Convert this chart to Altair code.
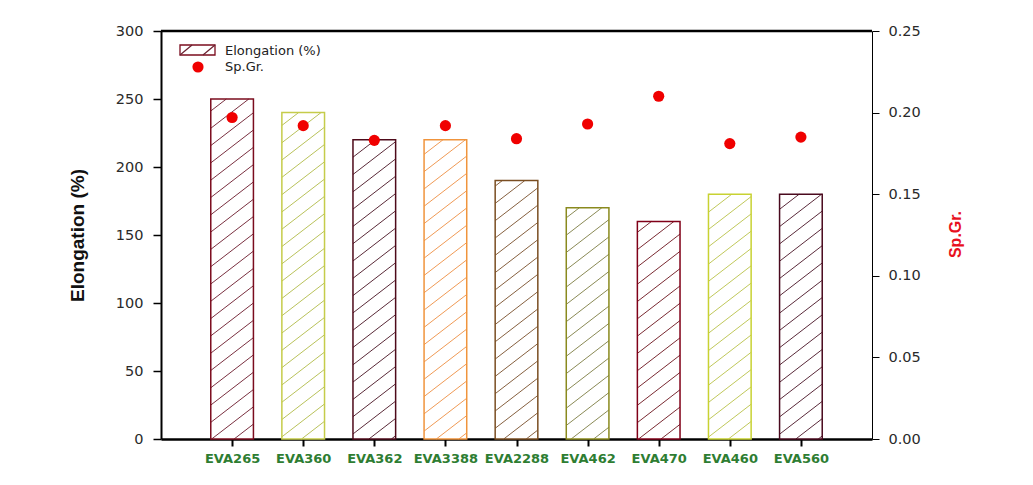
import math
import altair as alt
import pandas as pd

# ---------------- data ----------------
categories = ["EVA265", "EVA360", "EVA362", "EVA3388", "EVA2288",
              "EVA462", "EVA470", "EVA460", "EVA560"]
elongation = [250, 240, 220, 220, 190, 170, 160, 180, 180]
sp_gr = [0.197, 0.192, 0.183, 0.192, 0.184, 0.193, 0.210, 0.181, 0.185]
border_colors = ["#7b0c1e", "#c5cc4a", "#4e0a1a", "#f0943c", "#7a4e22",
                 "#8a8a1e", "#800018", "#c8d232", "#4a0a1e"]
hatch_colors = ["#7a3040", "#b9c25a", "#5a2a38", "#f09a55", "#86603f",
                "#8a8a55", "#7a2a32", "#c0c85a", "#5a2a3a"]

# ---------------- layout ----------------
W, H = 711, 408
XMAX, YMAX = 10, 300
HALF = 0.3
FONT = "Liberation Sans"

idx = list(range(1, len(categories) + 1))
bars = pd.DataFrame({
    "cat": categories, "idx": idx, "elong": elongation, "sg": sp_gr,
    "stroke": border_colors, "hatch": hatch_colors,
})
bars["x0"] = bars["idx"] - HALF
bars["x1"] = bars["idx"] + HALF
bars["zero"] = 0

# hatch segments (pattern expressed in pixels, converted to data units)
pxx = W / XMAX
pxy = H / YMAX
slope, spacing, phase = 0.77, 17.3, 12.9
segs = []
for _, r in bars.iterrows():
    xl, xr = r["x0"] * pxx, r["x1"] * pxx
    yt = r["elong"] * pxy
    kmin = math.floor((-slope * xr - phase) / spacing) - 1
    kmax = math.ceil((yt - slope * xl - phase) / spacing) + 1
    for k in range(kmin, kmax + 1):
        yl = slope * xl + phase + k * spacing
        yr = yl + slope * (xr - xl)
        if yl >= yt or yr <= 0:
            continue
        if yl >= 0:
            sx, sy = xl, yl
        else:
            sx, sy = xl + (-yl) / slope, 0.0
        if yr <= yt:
            ex, ey = xr, yr
        else:
            ex, ey = xl + (yt - yl) / slope, yt
        if math.hypot(ex - sx, ey - sy) < 1.0:
            continue
        segs.append({"x": sx / pxx, "y": sy / pxy, "x2": ex / pxx,
                     "y2": ey / pxy, "hatch": r["hatch"]})
hatch_df = pd.DataFrame(segs)

label_arr = "[" + ",".join(["''"] + [f"'{c}'" for c in categories] + ["''"]) + "]"

x_scale = alt.Scale(domain=[0, XMAX], nice=False, zero=False)
x_axis = alt.Axis(
    values=idx, labelExpr=f"{label_arr}[datum.value]", title=None,
    grid=False, domainColor="black", domainWidth=2.5, tickColor="black",
    tickWidth=2, tickSize=7, labelPadding=6, labelFont="DejaVu Sans",
    labelFontWeight="bold", labelFontSize=13, labelColor="#2e7d32",
)
y_scale = alt.Scale(domain=[0, YMAX], nice=False)
y_axis = alt.Axis(
    values=[0, 50, 100, 150, 200, 250, 300], title="Elongation (%)",
    grid=False, domainColor="black", domainWidth=2, tickColor="black",
    tickWidth=1.5, tickSize=8, labelPadding=10, labelFont="DejaVu Sans",
    labelFontSize=14.5, labelColor="#2a2a2a",
    titleFont=FONT, titleFontSize=19, titleFontWeight="bold",
    titleColor="#111", titleAngle=270, titleAlign="center",
    titleBaseline="middle", titleX=-84, titleY=204,
)

fill_layer = alt.Chart(bars).mark_rect(fill="white", stroke=None).encode(
    x=alt.X("x0:Q", scale=x_scale, axis=x_axis),
    x2="x1:Q",
    y=alt.Y("zero:Q", scale=y_scale, axis=y_axis),
    y2="elong:Q",
)
hatch_layer = alt.Chart(hatch_df).mark_rule(strokeWidth=1).encode(
    x=alt.X("x:Q", scale=x_scale, axis=x_axis),
    x2="x2:Q",
    y=alt.Y("y:Q", scale=y_scale, axis=y_axis),
    y2="y2:Q",
    color=alt.Color("hatch:N", scale=None),
)
stroke_layer = alt.Chart(bars).mark_rect(fillOpacity=0, strokeWidth=1.5).encode(
    x=alt.X("x0:Q", scale=x_scale, axis=x_axis),
    x2="x1:Q",
    y=alt.Y("zero:Q", scale=y_scale, axis=y_axis),
    y2="elong:Q",
    stroke=alt.Stroke("stroke:N", scale=None),
)
one = pd.DataFrame({"v": [YMAX]})
top_rule = alt.Chart(one).mark_rule(color="black", strokeWidth=2.5).encode(
    y=alt.Y("v:Q", scale=y_scale, axis=y_axis),
    x=alt.value(0), x2=alt.value(W),
)
left = alt.layer(fill_layer, hatch_layer, stroke_layer, top_rule)

r_axis = alt.Axis(
    orient="right", values=[0, 0.05, 0.10, 0.15, 0.20, 0.25], format=".2f",
    title="Sp.Gr.", grid=False, domainColor="black", domainWidth=1,
    tickColor="black", tickWidth=1, tickSize=7, labelPadding=9,
    labelFont="DejaVu Sans", labelFontSize=14.5, labelColor="#2a2a2a",
    titleFont=FONT, titleFontSize=16, titleFontWeight="bold",
    titleColor="#e8101e", titleAngle=270, titleAlign="center",
    titleBaseline="middle", titleX=83, titleY=203,
)
points = alt.Chart(bars).mark_point(filled=True, shape="circle", size=125,
                                    color="#f00000", opacity=1).encode(
    x=alt.X("idx:Q", scale=x_scale, axis=x_axis),
    y=alt.Y("sg:Q", scale=alt.Scale(domain=[0, 0.25], nice=False), axis=r_axis),
)

# legend (drawn inside the plot, top-left)
leg = pd.DataFrame({"a": [0]})
leg_rect = alt.Chart(leg).mark_rect(fill="white", stroke="#7b0c1e",
                                    strokeWidth=1.3).encode(
    x=alt.value(19), x2=alt.value(54), y=alt.value(14), y2=alt.value(24))
leg_h1 = alt.Chart(leg).mark_rule(color="#6a2030", strokeWidth=1.2).encode(
    x=alt.value(19), x2=alt.value(31), y=alt.value(24), y2=alt.value(14))
leg_h2 = alt.Chart(leg).mark_rule(color="#6a2030", strokeWidth=1.2).encode(
    x=alt.value(42), x2=alt.value(54), y=alt.value(24), y2=alt.value(14))
leg_dot = alt.Chart(leg).mark_point(filled=True, shape="circle", size=125,
                                    color="#f00000", opacity=1).encode(
    x=alt.value(37), y=alt.value(36))
leg_t1 = alt.Chart(leg).mark_text(text="Elongation (%)", align="left",
                                  baseline="middle", font="DejaVu Sans",
                                  fontSize=13, color="#222").encode(
    x=alt.value(64), y=alt.value(20))
leg_t2 = alt.Chart(leg).mark_text(text="Sp.Gr.", align="left",
                                  baseline="middle", font="DejaVu Sans",
                                  fontSize=13, color="#222").encode(
    x=alt.value(64), y=alt.value(36))

chart = alt.layer(left, points, leg_rect, leg_h1, leg_h2, leg_dot, leg_t1,
                  leg_t2).resolve_scale(y="independent").properties(
    width=W, height=H,
    autosize=alt.AutoSizeParams(type="none"),
    padding={"left": 161, "top": 31, "right": 161, "bottom": 46},
    background="white",
).configure_view(stroke=None)

chart.save("out.html", embed_options={"renderer": "svg", "actions": False})
